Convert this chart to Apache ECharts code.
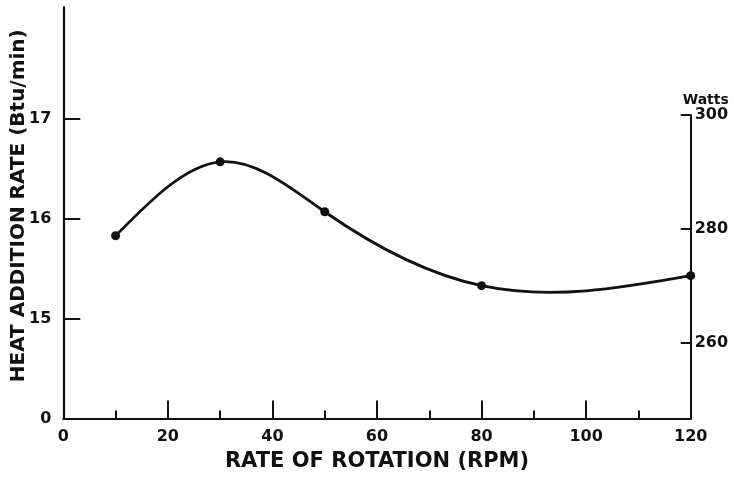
<!DOCTYPE html>
<html>
<head>
<meta charset="utf-8">
<script src="https://cdn.jsdelivr.net/npm/echarts@6/dist/echarts.min.js"></script>
<style>
  html, body { margin: 0; padding: 0; background: #fff; }
  #chart { width: 734px; height: 479px; }
</style>
</head>
<body>
<div id="chart"></div>
<script>
// Rate of rotation (RPM) and measured heat addition rate (Btu/min)
const rpm = [10, 30, 50, 80, 120];
const heatBtu = [15.83, 16.57, 16.07, 15.33, 15.43];

// Left axis: broken at the bottom (14 Btu/min drawn as "0")
const btuTicks = [14, 15, 16, 17];
const btuMin = 14;
const btuMax = 18.12;

// Right axis in watts
const wattTicks = [260, 280, 300];
const wattMin = 246.8;
const wattMax = 300;

// X axis ticks
const rpmMajor = [0, 20, 40, 60, 80, 100, 120];
const rpmMinor = [10, 30, 50, 70, 90, 110];

const FONT = 'DejaVu Sans';
const INK = '#111';

const chart = echarts.init(document.getElementById('chart'), null, { renderer: 'canvas' });

const points = rpm.map((r, i) => [r, heatBtu[i]]);

// Natural cubic spline slopes (dy/dx) through pixel points, used to draw a
// smooth faired curve through the measured points.
function splineSlopes(xs, ys) {
  const n = xs.length;
  const h = [], d = [];
  for (let i = 0; i < n - 1; i++) {
    h.push(xs[i + 1] - xs[i]);
    d.push((ys[i + 1] - ys[i]) / h[i]);
  }
  const M = new Array(n).fill(0);
  if (n > 2) {
    const m = n - 2;
    const a = [], b = [], c = [], r = [];
    for (let k = 0; k < m; k++) {
      const i = k + 1;
      a.push(h[i - 1]);
      b.push(2 * (h[i - 1] + h[i]));
      c.push(h[i]);
      r.push(6 * (d[i] - d[i - 1]));
    }
    for (let k = 1; k < m; k++) {
      const w = a[k] / b[k - 1];
      b[k] -= w * c[k - 1];
      r[k] -= w * r[k - 1];
    }
    const sol = new Array(m);
    sol[m - 1] = r[m - 1] / b[m - 1];
    for (let k = m - 2; k >= 0; k--) sol[k] = (r[k] - c[k] * sol[k + 1]) / b[k];
    for (let k = 0; k < m; k++) M[k + 1] = sol[k];
  }
  const s = [];
  for (let i = 0; i < n - 1; i++) s.push(d[i] - h[i] * (2 * M[i] + M[i + 1]) / 6);
  s.push(d[n - 2] + h[n - 2] * (M[n - 2] + 2 * M[n - 1]) / 6);
  return s;
}

function renderCurveSegment(params, api) {
  const i = params.dataIndex;
  if (i >= points.length - 1) return null;
  const px = points.map(p => api.coord(p));
  const slopes = splineSlopes(px.map(p => p[0]), px.map(p => p[1]));
  const p0 = px[i], p1 = px[i + 1];
  const hx = (p1[0] - p0[0]) / 3;
  return {
    type: 'bezierCurve',
    shape: {
      x1: p0[0], y1: p0[1], x2: p1[0], y2: p1[1],
      cpx1: p0[0] + hx, cpy1: p0[1] + slopes[i] * hx,
      cpx2: p1[0] - hx, cpy2: p1[1] - slopes[i + 1] * hx
    },
    style: { stroke: INK, lineWidth: 2.8, fill: null, lineCap: 'round' }
  };
}

const gridBase = { left: 63.3, right: 43.3, bottom: 60.5, containLabel: false, outerBoundsMode: 'none' };

chart.setOption({
  animation: false,
  backgroundColor: '#fff',
  grid: [
    Object.assign({ top: 7 }, gridBase),
    Object.assign({ top: 115 }, gridBase)
  ],
  xAxis: [
    {
      gridIndex: 0, type: 'value', min: 0, max: 120, interval: 20,
      name: 'RATE OF ROTATION (RPM)', nameLocation: 'middle', nameGap: 33,
      nameTextStyle: { fontFamily: FONT, fontWeight: 'bold', fontSize: 21, color: INK },
      axisLine: { show: true, onZero: false, lineStyle: { color: INK, width: 2.2 } },
      axisTick: { show: true, inside: true, length: 18, lineStyle: { color: INK, width: 2 } },
      axisLabel: {
        margin: 10, fontFamily: FONT, fontWeight: 'bold', fontSize: 16, color: INK,
        customValues: rpmMajor
      },
      splitLine: { show: false }
    },
    {
      // short intermediate ticks at the odd tens
      gridIndex: 0, type: 'value', min: 0, max: 120, position: 'bottom',
      axisLine: { show: false, onZero: false },
      axisTick: { show: true, inside: true, length: 8, customValues: rpmMinor, lineStyle: { color: INK, width: 2 } },
      axisLabel: { show: false },
      splitLine: { show: false }
    },
    {
      gridIndex: 1, type: 'value', min: 0, max: 120, show: false
    }
  ],
  yAxis: [
    {
      gridIndex: 0, type: 'value', min: btuMin, max: btuMax, position: 'left',
      name: 'HEAT ADDITION RATE (Btu/min)', nameLocation: 'middle', nameGap: 35,
      nameMoveOverlap: false,
      nameTextStyle: { fontFamily: FONT, fontWeight: 'bold', fontSize: 20, color: INK, padding: [0, 0, 0, 14] },
      axisLine: { show: true, onZero: false, lineStyle: { color: INK, width: 2.2 } },
      axisTick: { show: true, inside: true, length: 17, customValues: btuTicks.slice(1), lineStyle: { color: INK, width: 2 } },
      axisLabel: {
        margin: 12, fontFamily: FONT, fontWeight: 'bold', fontSize: 16, color: INK,
        customValues: btuTicks,
        formatter: v => (v === btuMin ? '0' : String(v))
      },
      splitLine: { show: false }
    },
    {
      gridIndex: 1, type: 'value', min: wattMin, max: wattMax, position: 'right',
      name: 'Watts', nameLocation: 'end', nameGap: 8,
      nameTextStyle: { fontFamily: FONT, fontWeight: 'bold', fontSize: 14, color: INK, align: 'left', padding: [0, 0, 0, -8] },
      axisLine: { show: true, onZero: false, lineStyle: { color: INK, width: 2 } },
      axisTick: { show: true, inside: true, length: 10, customValues: wattTicks, lineStyle: { color: INK, width: 2 } },
      axisLabel: {
        margin: 4, fontFamily: FONT, fontWeight: 'bold', fontSize: 16, color: INK,
        customValues: wattTicks
      },
      splitLine: { show: false }
    }
  ],
  series: [
    {
      type: 'custom', xAxisIndex: 0, yAxisIndex: 0,
      data: points,
      encode: { x: 0, y: 1 },
      renderItem: renderCurveSegment,
      clip: false,
      z: 4
    },
    {
      type: 'scatter', xAxisIndex: 0, yAxisIndex: 0,
      data: points,
      symbol: 'circle', symbolSize: 9,
      itemStyle: { color: INK, opacity: 1 },
      z: 5
    }
  ]
});
</script>
</body>
</html>
